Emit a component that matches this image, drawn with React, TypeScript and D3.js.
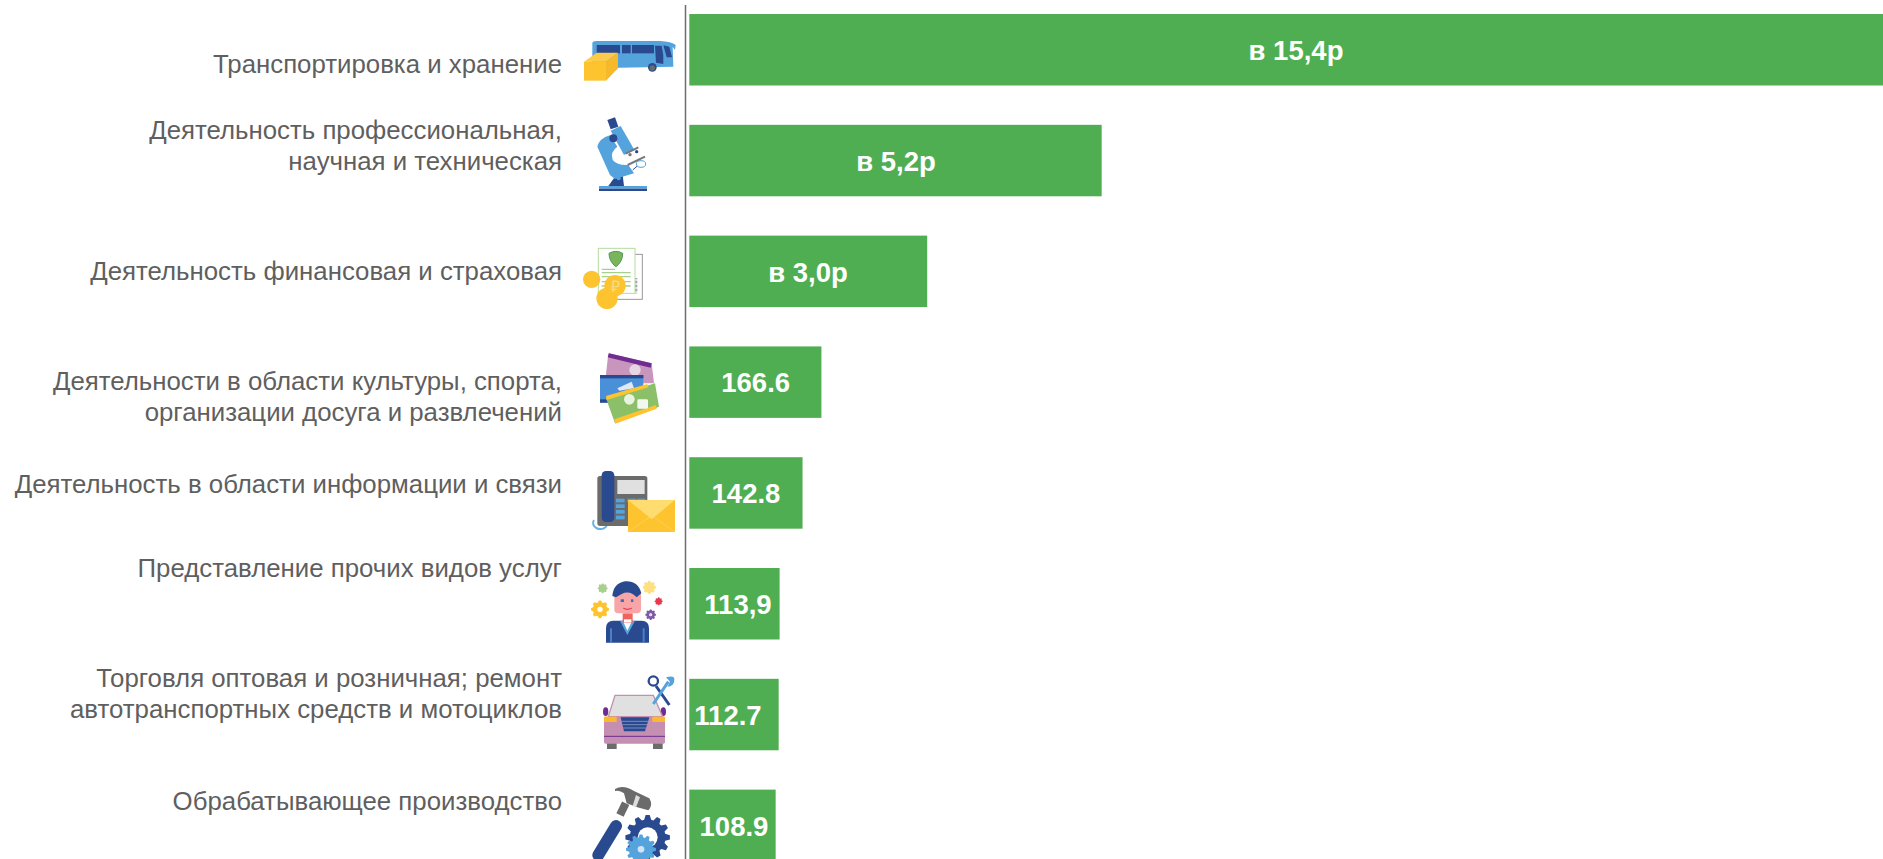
import React from "react";
import * as d3 from "d3";

const categories = [
  ["Транспортировка и хранение"],
  ["Деятельность профессиональная,", "научная и техническая"],
  ["Деятельность финансовая и страховая"],
  ["Деятельности в области культуры, спорта,", "организации досуга и развлечений"],
  ["Деятельность в области информации и связи"],
  ["Представление прочих видов услуг"],
  ["Торговля оптовая и розничная; ремонт", "автотранспортных средств и мотоциклов"],
  ["Обрабатывающее производство"],
];
const values = [1540, 520, 300, 166.6, 142.8, 113.9, 112.7, 108.9];
const valueLabels = ["в 15,4р", "в 5,2р", "в 3,0р", "166.6", "142.8", "113,9", "112.7", "108.9"];
const labelCenters = [1296, 896, 808, 755.7, 746, 738, 728, 734];
const labelBaselines = [[73], [139, 170], [280], [390, 421], [493], [577], [687, 718], [810]];

const W = 1883, H = 859;
const GREEN = "#4fae52", DARK = "#2a4a90", BLUE = "#55a3dd", YEL = "#fdc430", GRAY = "#6b6b6b";

function gearPath(cx: number, cy: number, r: number, n: number) {
  const pts: string[] = [];
  d3.range(n).forEach((i) => {
    const a = (i / n) * 2 * Math.PI, s = (Math.PI / n) * 0.5;
    [[-s * 1.5, r * 0.8], [-s * 0.7, r], [s * 0.7, r], [s * 1.5, r * 0.8]].forEach(([d, rr]) =>
      pts.push(`${cx + rr * Math.cos(a + d)},${cy + rr * Math.sin(a + d)}`)
    );
  });
  return "M" + pts.join("L") + "Z";
}

const Z = (x: number, y: number, k = 1 / 3) => `translate(${x},${y}) scale(${k})`;

const Bus = () => (
  <g transform={Z(560, 0)}>
    <path d="M97 130Q97 123 110 123L300 123Q335 125 347 135L345 150L338 140L340 200L97 205Z" fill={BLUE} />
    <rect x={110} y={135} width={70} height={25} fill={DARK} />
    <rect x={186} y={135} width={26} height={25} fill={DARK} />
    <rect x={216} y={135} width={66} height={25} fill={DARK} />
    <path d="M285 137L305 137Q312 165 310 192L288 188Z" fill={DARK} />
    <path d="M310 136L328 140L336 172L320 172Z" fill={DARK} />
    <circle cx={277} cy={202} r={13} fill={DARK} />
    <circle cx={277} cy={204} r={8} fill={GRAY} />
    <path d="M72 185L110 158L174 158L138 185Z" fill="#fdcb4a" />
    <rect x={72} y={185} width={66} height={57} fill={YEL} />
    <path d="M138 185L174 158L174 205L138 242Z" fill="#f6b92b" />
  </g>
);

const Microscope = () => (
  <g transform={Z(560, 0)}>
    <rect x={117} y={558} width={144} height={8} fill={BLUE} />
    <rect x={117} y={566} width={144} height={7} fill={DARK} />
    <path d="M145 558L165 530L188 525L192 558Z" fill={DARK} />
    <path d="M112 440Q118 415 150 406L172 440Q150 455 158 480Q172 497 205 495L222 520L165 537L150 525Z" fill={BLUE} />
    <path d="M152 392L182 378L222 448L192 465Z" fill={BLUE} />
    <path d="M142 360L165 352L175 380L152 388Z" fill={DARK} />
    <circle cx={160} cy={415} r={12} fill={DARK} />
    <circle cx={176} cy={535} r={6} fill={BLUE} />
    <path d="M197 461L235 442M203 495L255 470" stroke="#777" strokeWidth={6} />
    <circle cx={210} cy={464} r={5} fill="#777" />
    <circle cx={230} cy={455} r={5} fill={DARK} />
    <ellipse cx={243} cy={492} rx={14} ry={10} fill="#fff" stroke={BLUE} strokeWidth={3} />
    <path d="M218 510L232 498" stroke={DARK} strokeWidth={3} />
  </g>
);

const Docs = () => (
  <g transform={Z(560, 0)}>
    <rect x={135} y={763} width={112} height={135} fill="#fff" stroke="#999" strokeWidth={3} />
    <rect x={115} y={745} width={110} height={135} fill="#fff" stroke="#b5dba0" strokeWidth={3} />
    <path d="M147 760Q168 748 188 760Q188 785 168 800Q147 785 147 760Z" fill="#7ab55c" stroke="#4f9a55" strokeWidth={3} />
    <path d="M125 808H165M125 818H212M125 830H212M125 845H212M125 858H212" stroke="#a8d08d" strokeWidth={4} />
    <path d="M229 835V880" stroke="#888" strokeWidth={6} strokeDasharray="2 2" />
    <circle cx={95} cy={838} r={26} fill={YEL} />
    <circle cx={141} cy={895} r={32} fill={YEL} />
    <circle cx={165} cy={857} r={32} fill={YEL} />
    <text x={165} y={875} fontSize={48} textAnchor="middle" fill="#f6dd8a" fontFamily="Liberation Sans">₽</text>
  </g>
);

const Tickets = () => (
  <g transform={Z(560, 320)}>
    <path d="M145 100L275 130L282 190L135 190Z" fill="#c896bd" />
    <path d="M147 100L275 130L272 143L143 112Z" fill="#6f2c91" />
    <circle cx={225} cy={150} r={17} fill="#e8d5e3" />
    <rect x={120} y={165} width={130} height={83} fill="#4a90d9" />
    <rect x={120} y={165} width={130} height={10} fill={DARK} />
    <rect x={120} y={238} width={40} height={10} fill={DARK} />
    <path d="M172 205L215 185L222 205L178 212Z" fill="#dfe8f5" />
    <path d="M138 235L285 190L297 260L165 310Z" fill="#8bc068" />
    <path d="M138 228L262 192L265 202L140 240Z" fill={YEL} />
    <path d="M163 298L288 255L290 266L166 311Z" fill={YEL} />
    <circle cx={208} cy={238} r={16} fill="#e9f3df" />
    <rect x={232} y={238} width={32} height={28} rx={4} fill="#f3f8ee" />
  </g>
);

const Phone = () => (
  <g transform={Z(560, 320)}>
    <path d="M102 600A18 15 0 1 0 140 618" fill="none" stroke="#6ab0e4" strokeWidth={6} />
    <rect x={112} y={468} width={150} height={150} rx={8} fill={GRAY} />
    <rect x={125} y={453} width={38} height={153} rx={13} fill={DARK} />
    <rect x={172} y={480} width={82} height={42} fill="#e0e0e0" />
    {d3.range(4).map((i) => (
      <rect key={i} x={168} y={536 + i * 17} width={26} height={11} fill={BLUE} />
    ))}
    <rect x={202} y={536} width={26} height={11} fill={BLUE} />
    <rect x={230} y={536} width={26} height={11} fill={BLUE} />
    <rect x={204} y={540} width={141} height={96} fill={YEL} />
    <path d="M204 540H345L275 598Z" fill="#ffdc70" />
    <path d="M204 636L268 592M345 636L282 592" stroke="#ffd65c" strokeWidth={2} />
  </g>
);

const Person = () => (
  <g transform={Z(580, 560)}>
    <path d="M78 205Q78 182 100 182H185Q207 182 207 205V248H78Z" fill={DARK} />
    <path d="M90 205H96V248H90ZM188 205H194V248H188Z" fill="#4a80c8" />
    <path d="M120 182L142 225L165 182Z" fill="#5aa5dc" />
    <path d="M130 185L142 212L155 185Z" fill="#fff" />
    <rect x={128} y={160} width={30} height={28} fill="#f0645c" />
    <rect x={132} y={178} width={22} height={9} fill="#fff" />
    <rect x={103} y={90} width={80} height={70} rx={12} fill="#f8a5a8" />
    <path d="M97 108Q100 70 135 64Q175 62 184 100L170 112Q150 90 125 102L108 112Z" fill={DARK} />
    <rect x={122} y={118} width={10} height={8} fill="#3c6fb0" />
    <rect x={153} y={118} width={7} height={8} fill="#3c6fb0" />
    <path d="M130 144Q142 152 155 144" stroke="#e8384f" strokeWidth={4} fill="none" />
    <path d={gearPath(60, 148, 27, 8)} fill={YEL} />
    <circle cx={60} cy={148} r={8} fill="#fff" />
    <path d={gearPath(68, 85, 15, 8)} fill="#a8d08d" />
    <path d={gearPath(208, 82, 20, 8)} fill="#ffe080" />
    <path d={gearPath(236, 124, 12, 8)} fill="#e8384f" />
    <path d={gearPath(212, 164, 16, 8)} fill="#7c5ba6" />
    <circle cx={212} cy={164} r={5} fill="#e4dcef" />
  </g>
);

const Car = () => (
  <g transform={Z(560, 590)}>
    <rect x={141} y={455} width={29} height={22} fill={GRAY} />
    <rect x={279} y={455} width={29} height={22} fill={GRAY} />
    <ellipse cx={137} cy={365} rx={8} ry={13} fill="#6f2c91" />
    <ellipse cx={310} cy={365} rx={8} ry={13} fill="#6f2c91" />
    <path d="M165 316H280L308 380H145Z" fill="#e0e0e0" stroke="#c48fb0" strokeWidth={4} />
    <rect x={132} y={380} width={183} height={81} rx={5} fill="#c48fb0" />
    <rect x={132} y={380} width={38} height={16} fill="#fdb92e" />
    <rect x={277} y={380} width={38} height={16} fill="#fdb92e" />
    <path d="M182 382H268L255 424H192Z" fill={DARK} />
    <path d="M185 394H265M188 404H262M190 414H258" stroke="#9fb1d6" strokeWidth={2} />
    <path d="M132 439H315" stroke="#6f2c91" strokeWidth={3} />
    <path d="M328 345L288 288" stroke={DARK} strokeWidth={9} />
    <circle cx={280} cy={273} r={14} fill="none" stroke={DARK} strokeWidth={7} />
    <path d="M280 342L325 275" stroke={BLUE} strokeWidth={9} />
    <path d="M318 262Q345 255 343 270Q342 290 322 290L330 275Z" fill={BLUE} />
  </g>
);

const Hammer = () => (
  <g transform={Z(560, 590)}>
    <path d="M180 675L197 640" stroke={GRAY} strokeWidth={24} />
    <path d="M115 795L168 708" stroke={DARK} strokeWidth={36} strokeLinecap="round" />
    <path d="M165 597Q190 583 222 603L268 625Q280 645 265 661L232 652L200 640L192 610Q180 600 165 603Z" fill={GRAY} />
    <path d="M228 615L240 622L228 652L218 648Z" fill="#ddd" />
    <path d={gearPath(263, 742, 67, 12)} fill={DARK} />
    <circle cx={263} cy={742} r={30} fill="#fff" />
    <path d={gearPath(243, 778, 45, 12)} fill={BLUE} />
    <circle cx={243} cy={778} r={10} fill="#cfe5f6" />
  </g>
);

const icons = [Bus, Microscope, Docs, Tickets, Phone, Person, Car, Hammer];

export default function App() {
  const x = d3.scaleLinear().domain([0, 100]).range([689.3, 689.3 + 79.3]);
  const y = d3
    .scaleBand<number>()
    .domain(d3.range(values.length))
    .range([-5.65, 880.75])
    .paddingInner(0.355)
    .paddingOuter(0.1775);

  return (
    <svg
      width={W}
      height={H}
      viewBox={`0 0 ${W} ${H}`}
      style={{ position: "absolute", left: 0, top: 0, background: "#fff", display: "block" }}
    >
      {values.map((v, i) => (
        <rect key={i} x={x(0)} y={y(i)} width={x(v) - x(0)} height={y.bandwidth()} fill={GREEN} />
      ))}
      <line x1={685.5} x2={685.5} y1={5} y2={H} stroke="#6e6e6e" strokeWidth={1.5} />
      {categories.map((lines, i) =>
        lines.map((t, j) => (
          <text
            key={`${i}-${j}`}
            x={562}
            y={labelBaselines[i][j]}
            textAnchor="end"
            fontFamily="'Liberation Sans', Arial, sans-serif"
            fontSize={25.8}
            fill="#5f5f5f"
          >
            {t}
          </text>
        ))
      )}
      {icons.map((Icon, i) => (
        <Icon key={i} />
      ))}
      {valueLabels.map((t, i) => (
        <text
          key={i}
          x={labelCenters[i]}
          y={(y(i) as number) + 46}
          textAnchor="middle"
          fontFamily="'Liberation Sans', Arial, sans-serif"
          fontWeight="bold"
          fontSize={27.5}
          fill="#fff"
        >
          {t}
        </text>
      ))}
    </svg>
  );
}
